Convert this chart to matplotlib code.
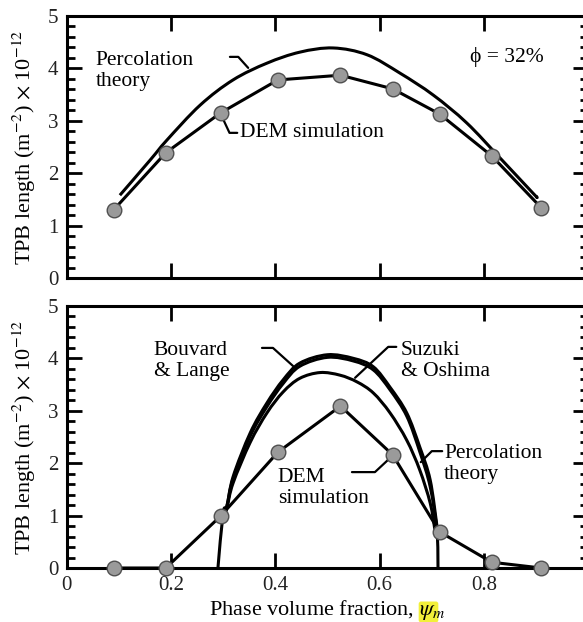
import matplotlib
matplotlib.use('Agg')
import matplotlib.pyplot as plt
import numpy as np
from matplotlib.patches import FancyBboxPatch, PathPatch
from matplotlib.path import Path
from matplotlib.ticker import MultipleLocator

plt.rcParams['font.family'] = ['Liberation Serif', 'DejaVu Serif']
plt.rcParams['mathtext.fontset'] = 'stix'

# DEM simulation (same volume fractions in both panels)
dem_x = [0.09, 0.19, 0.295, 0.405, 0.525, 0.625, 0.715, 0.815, 0.91]
dem_top = [1.30, 2.39, 3.15, 3.78, 3.87, 3.61, 3.13, 2.33, 1.34]
dem_bot = [0.0, 0.0, 0.99, 2.21, 3.09, 2.16, 0.69, 0.11, 0.0]

# percolation theory, top panel (phi = 32%)
perc_top_x = [0.102, 0.16, 0.192, 0.256, 0.319, 0.384, 0.447, 0.511, 0.576, 0.639, 0.703, 0.767, 0.831, 0.894, 0.90]
perc_top_y = [1.58, 2.25, 2.63, 3.30, 3.78, 4.10, 4.31, 4.39, 4.26, 3.91, 3.49, 2.96, 2.29, 1.62, 1.56]

# bottom panel models
bl_x = [0.300, 0.307, 0.319, 0.352, 0.384, 0.415, 0.447, 0.50, 0.55, 0.588, 0.620, 0.652, 0.677, 0.697, 0.710]
bl_y = [0.95, 1.16, 1.74, 2.58, 3.15, 3.59, 3.91, 4.07, 4.00, 3.84, 3.45, 2.96, 2.31, 1.68, 0.80]
so_x = [0.300, 0.307, 0.319, 0.352, 0.384, 0.415, 0.447, 0.486, 0.524, 0.557, 0.588, 0.620, 0.652, 0.677, 0.697, 0.706]
so_y = [0.95, 1.14, 1.62, 2.40, 2.96, 3.36, 3.62, 3.73, 3.68, 3.55, 3.34, 2.96, 2.44, 1.87, 1.24, 0.73]
pt_x = [0.290, 0.300, 0.307, 0.319, 0.352, 0.384, 0.415, 0.447, 0.50, 0.55, 0.588, 0.620, 0.652, 0.677, 0.697, 0.710, 0.712]
pt_y = [0.0, 1.05, 1.18, 1.70, 2.52, 3.08, 3.52, 3.85, 4.02, 3.95, 3.78, 3.40, 2.90, 2.22, 1.55, 0.70, 0.0]

xticks = [0, 0.2, 0.4, 0.6, 0.8, 1.0]
xticklabels = ['0', '0.2', '0.4', '0.6', '0.8', '']
ylab = r'TPB length (m$^{\mathrm{-2}}$) $\times$ 10$^{-12}$'


def smooth(ax, xs, ys, lw):
    # catmull-rom through the read points, drawn as bezier segments
    p = np.column_stack([xs, ys])
    verts = [p[0]]
    codes = [Path.MOVETO]
    for i in range(len(p) - 1):
        p0 = p[i - 1] if i > 0 else p[i]
        p3 = p[i + 2] if i + 2 < len(p) else p[i + 1]
        c1 = p[i] + (p[i + 1] - p0) / 6.0
        c2 = p[i + 1] - (p3 - p[i]) / 6.0
        verts += [c1, c2, p[i + 1]]
        codes += [Path.CURVE4] * 3
    ax.add_patch(PathPatch(Path(verts, codes), fill=False, edgecolor='black',
                           lw=lw, capstyle='butt', joinstyle='round'))


W, H = 583, 622
fig = plt.figure(figsize=(W / 100, H / 100), dpi=100)
ax1 = fig.add_axes([66.7 / W, 1 - 278 / H, 521.5 / W, 262 / H])
ax2 = fig.add_axes([66.7 / W, 1 - 568 / H, 521.5 / W, 262 / H])

lw = 2.2
for ax in (ax1, ax2):
    ax.set_xlim(0, 1)
    ax.set_ylim(0, 5)
    ax.set_xticks(xticks)
    ax.yaxis.set_major_locator(MultipleLocator(1))
    ax.yaxis.set_minor_locator(MultipleLocator(0.2))
    ax.tick_params(which='both', direction='in', top=True, right=True, width=2.0,
                   labelsize=15, labelcolor='#222222')
    ax.tick_params(which='major', length=11, pad=6)
    ax.tick_params(which='minor', length=6)
    for s in ax.spines.values():
        s.set_linewidth(lw)
    ax.set_ylabel(ylab, fontsize=16)

ax1.set_xticklabels([])
ax2.set_xticklabels(xticklabels)
ax1.yaxis.set_label_coords(-0.055, 0.5)
ax2.yaxis.set_label_coords(-0.055, 0.5)

mk = dict(marker='o', markersize=10.5, markerfacecolor='#9a9a9a', markeredgecolor='#505050',
          markeredgewidth=1.0, color='black', lw=lw, clip_on=False, zorder=5)

# top panel
smooth(ax1, perc_top_x, perc_top_y, lw)
ax1.plot(dem_x, dem_top, **mk)
leader = dict(arrowstyle='-', shrinkA=0, shrinkB=0, lw=1.6, color='black')
ax1.text(0.056, 4.33, 'Percolation\ntheory', fontsize=15.5, va='top', ha='left', linespacing=1.1)
ax1.annotate('', xy=(0.348, 4.01), xytext=(0.313, 4.22),
             arrowprops=dict(connectionstyle='angle,angleA=0,angleB=132,rad=0', **leader))
ax1.text(0.333, 2.77, 'DEM simulation', fontsize=15.5, va='center', ha='left')
ax1.annotate('', xy=(0.300, 3.03), xytext=(0.327, 2.77),
             arrowprops=dict(connectionstyle='angle,angleA=0,angleB=-65,rad=0', **leader))
ax1.text(0.845, 4.12, 'ϕ = 32%', fontsize=15.5, ha='center', va='baseline')

# bottom panel
smooth(ax2, bl_x, bl_y, lw)
smooth(ax2, so_x, so_y, lw)
smooth(ax2, pt_x, pt_y, lw)
ax2.plot(dem_x, dem_bot, **mk)

ax2.text(0.167, 4.33, 'Bouvard\n& Lange', fontsize=15.5, va='top', ha='left', linespacing=1.1)
ax2.annotate('', xy=(0.434, 3.855), xytext=(0.3745, 4.20),
             arrowprops=dict(connectionstyle='angle,angleA=0,angleB=138,rad=0', **leader))
ax2.text(0.641, 4.33, 'Suzuki\n& Oshima', fontsize=15.5, va='top', ha='left', linespacing=1.1)
ax2.annotate('', xy=(0.553, 3.63), xytext=(0.632, 4.22),
             arrowprops=dict(connectionstyle='angle,angleA=0,angleB=43,rad=0', **leader))
ax2.text(0.724, 2.36, 'Percolation\ntheory', fontsize=15.5, va='top', ha='left', linespacing=1.1)
ax2.annotate('', xy=(0.679, 2.02), xytext=(0.720, 2.23),
             arrowprops=dict(connectionstyle='angle,angleA=0,angleB=45,rad=0', **leader))
ax2.text(0.405, 1.9, 'DEM\nsimulation', fontsize=15.5, va='top', ha='left', linespacing=1.1)
ax2.annotate('', xy=(0.618, 2.08), xytext=(0.547, 1.83),
             arrowprops=dict(connectionstyle='angle,angleA=0,angleB=-137,rad=0', **leader))

ax2.set_xlabel(r'Phase volume fraction, $\psi_m$', fontsize=16, labelpad=2)

# yellow highlight behind the symbol
fig.patches.append(FancyBboxPatch((421 / W, 2 / H), 15 / W, 16 / H, boxstyle='round,pad=0.004',
                                  transform=fig.transFigure, facecolor='#f2f03a',
                                  edgecolor='none', zorder=-1))

fig.savefig('out.png', dpi=100)
